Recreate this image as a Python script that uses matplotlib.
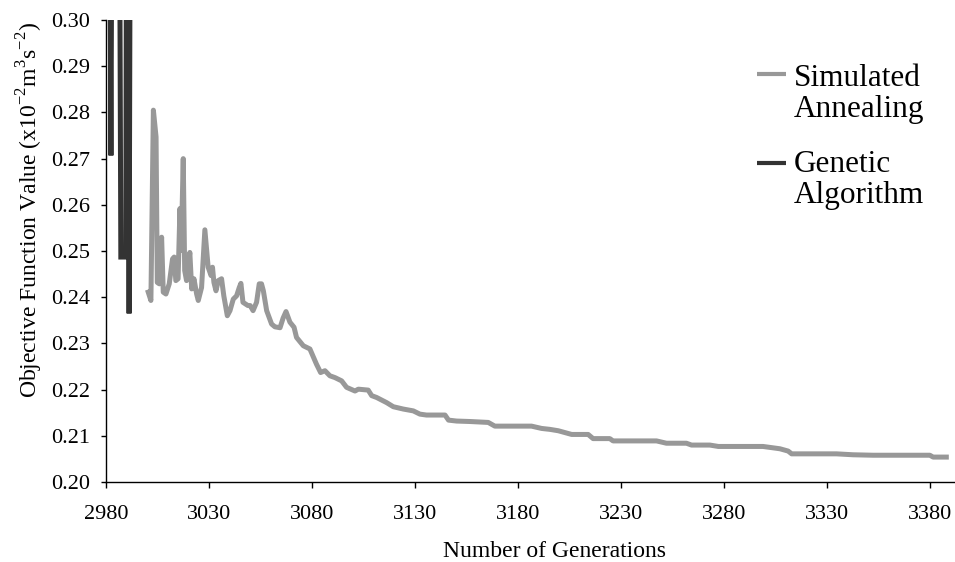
#!/usr/bin/env python
# coding=utf-8

import matplotlib
matplotlib.use("Agg")
import matplotlib.pyplot as plt

# simulated annealing
sa_gen = [3000.5, 3001.8, 3003.0, 3004.3, 3004.9, 3005.9, 3007.0, 3007.8, 3009.1, 3010.7,
          3012.3, 3013.1, 3013.9, 3015.0, 3015.9, 3016.5, 3017.5, 3018.2, 3019.1, 3020.7,
          3021.6, 3022.7, 3024.0, 3024.8, 3026.4, 3028.0, 3029.6, 3031.0, 3031.7, 3032.4,
          3033.4, 3034.5, 3036.1, 3037.2, 3038.9, 3040.2, 3041.8, 3043.4, 3044.7, 3045.5,
          3046.5, 3048.9, 3050.0, 3051.4, 3053.1, 3054.4, 3055.5, 3056.4, 3058.0, 3060.4,
          3062.0, 3064.5, 3066.0, 3067.4, 3069.3, 3071.3, 3072.5, 3075.8, 3079.0, 3082.2,
          3084.2, 3086.3, 3088.7, 3091.2, 3094.4, 3096.8, 3100.9, 3102.5, 3107.3, 3109.0,
          3111.4, 3116.2, 3119.5, 3124.3, 3129.2, 3132.4, 3135.6, 3144.6, 3146.3, 3150.2,
          3156.7, 3165.6, 3168.8, 3186.6, 3191.5, 3195.5, 3199.6, 3206.1, 3214.1, 3216.5,
          3224.6, 3226.2, 3247.3, 3252.1, 3261.8, 3264.3, 3273.2, 3277.3, 3299.0, 3307.2,
          3311.2, 3312.9, 3334.7, 3342.7, 3352.5, 3380.0, 3381.6, 3388.0]
sa_val = [0.2411, 0.2393, 0.2805, 0.2747, 0.2432, 0.2429, 0.2530, 0.2411, 0.2407, 0.2429,
          0.2483, 0.2487, 0.2436, 0.2440, 0.2592, 0.2501, 0.2700, 0.2458, 0.2436, 0.2497,
          0.2418, 0.2440, 0.2407, 0.2393, 0.2421, 0.2546, 0.2465, 0.2447, 0.2465, 0.2432,
          0.2414, 0.2436, 0.2440, 0.2403, 0.2360, 0.2371, 0.2396, 0.2403, 0.2421, 0.2430,
          0.2389, 0.2382, 0.2382, 0.2371, 0.2389, 0.2429, 0.2429, 0.2414, 0.2371, 0.2342,
          0.2336, 0.2334, 0.2355, 0.2369, 0.2346, 0.2335, 0.2313, 0.2295, 0.2288, 0.2255,
          0.2237, 0.2241, 0.2230, 0.2226, 0.2219, 0.2205, 0.2197, 0.2201, 0.2199, 0.2187,
          0.2183, 0.2172, 0.2163, 0.2158, 0.2154, 0.2147, 0.2145, 0.2145, 0.2134, 0.2132,
          0.2131, 0.2129, 0.2121, 0.2121, 0.2116, 0.2114, 0.2111, 0.2103, 0.2103, 0.2094,
          0.2094, 0.2089, 0.2089, 0.2084, 0.2084, 0.2080, 0.2080, 0.2077, 0.2077, 0.2072,
          0.2067, 0.2061, 0.2061, 0.2059, 0.2058, 0.2058, 0.2054, 0.2054]

# genetic algorithm, mostly above the visible range
ga_gen = [2981.0, 2982.4, 2983.4, 2986.0, 2987.2, 2989.6, 2990.3, 2991.2, 2992.2]
ga_val = [0.40, 0.2707, 0.40, 0.40, 0.2487, 0.2487, 0.40, 0.2365, 0.40]

legend_labels = ["Simulated\nAnnealing", "Genetic\nAlgorithm"]
x_ticks = [2980, 3030, 3080, 3130, 3180, 3230, 3280, 3330, 3380]
y_ticks = [0.20, 0.21, 0.22, 0.23, 0.24, 0.25, 0.26, 0.27, 0.28, 0.29, 0.30]

SA_COLOR = "#989898"
GA_COLOR = "#333333"

plt.rcParams["font.family"] = ["Liberation Serif", "DejaVu Serif"]
plt.rcParams["mathtext.fontset"] = "custom"
plt.rcParams["mathtext.rm"] = "Liberation Serif"


def draw_legend(ax):
    """legend by hand, the line sits next to the first text line"""
    spots = [(0.883, 0.905), (0.690, 0.719)]
    colors = [SA_COLOR, GA_COLOR]
    for (ly, ty), c, lab in zip(spots, colors, legend_labels):
        ax.plot([0.725, 0.757], [ly, ly], color=c, lw=3, transform=ax.transAxes,
                clip_on=False, solid_capstyle="butt")
        ax.text(0.766, ty, lab, transform=ax.transAxes, fontsize=22.5,
                va="top", ha="left", linespacing=1.1)


def create_plot():
    fig = plt.figure(figsize=(9.55, 5.62), dpi=100, facecolor="white")
    # axes runs past the right edge, the source picture was cropped there
    ax = fig.add_axes([0.111, 0.1423, 0.9403, 0.822])

    ax.plot(sa_gen, sa_val, color=SA_COLOR, lw=3.6, solid_joinstyle="round")
    ax.plot(ga_gen, ga_val, color=GA_COLOR, lw=3.6, solid_joinstyle="miter")

    ax.set_xlim(2980, 3416)
    ax.set_ylim(0.20, 0.30)
    ax.set_xticks(x_ticks)
    ax.set_yticks(y_ticks)
    ax.set_yticklabels(["%.2f" % v for v in y_ticks])

    for s in ["top", "right"]:
        ax.spines[s].set_visible(False)
    for s in ["left", "bottom"]:
        ax.spines[s].set_linewidth(1.0)
    ax.tick_params(axis="x", direction="out", length=4.5, width=1.0, pad=12, labelsize=16)
    ax.tick_params(axis="y", direction="out", length=3.6, width=1.0, pad=8, labelsize=16)

    ax.set_xlabel("Number of Generations", fontsize=17, labelpad=12)
    ax.set_ylabel(r"Objective Function Value (x10$^{\mathregular{-2}}$m$^{\mathregular{3}}$"
                  r"s$^{\mathregular{-2}}$)", fontsize=17)
    ax.yaxis.set_label_coords(-0.068, 0.589)

    draw_legend(ax)
    fig.savefig("out.png", dpi=100)


if __name__ == "__main__":
    create_plot()
